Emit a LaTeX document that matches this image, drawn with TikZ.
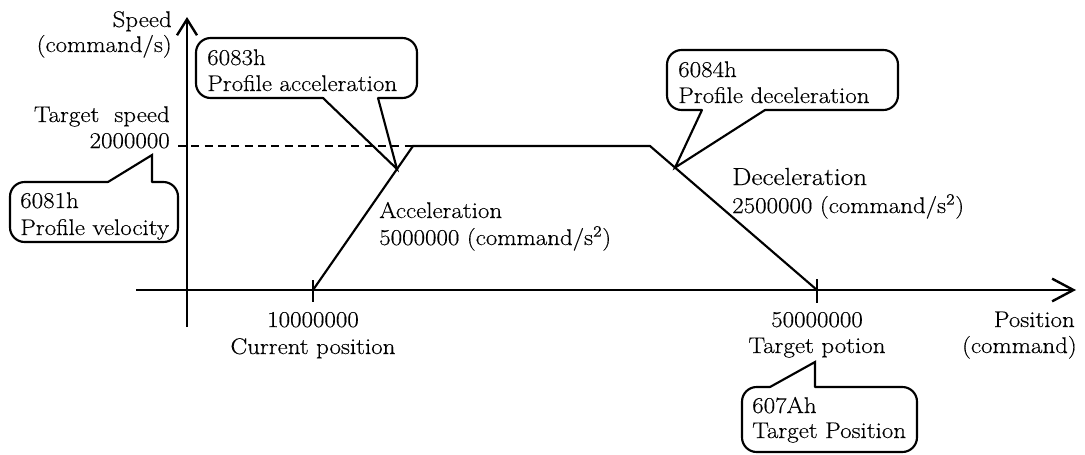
\documentclass[tikz,border=0pt]{standalone}
\usepackage{fontspec}
\setmainfont{Latin Modern Roman}[FakeStretch=1.1,FakeBold=0.4]
\usetikzlibrary{arrows.meta,calc}
\begin{document}
\begin{tikzpicture}[x=0.75pt,y=-0.75pt,
  txt/.style={inner sep=0pt,font=\fontsize{17}{20}\selectfont},
  big/.style={inner sep=0pt,font=\fontsize{18.5}{22}\selectfont},
  axis/.style={line width=1.8pt},
  curve/.style={line width=1.6pt,line join=miter},
  box/.style={line width=1.6pt,rounded corners=11pt},
  tail/.style={line width=1.6pt,line cap=round,line join=miter},
  erase/.style={fill=white},
]
\useasboundingbox (0,0) rectangle (1085,454);

% ---------- callout boxes ----------
% 6083h
\draw[box] (196,38) rectangle (417,98);
\coordinate (A1) at (323,98); \coordinate (A2) at (378,98);
% 6084h
\draw[box] (667,50) rectangle (898,110);
\coordinate (D1) at (702,110); \coordinate (D2) at (765,110);
% 6081h
\draw[box] (10,182) rectangle (178,242);
\coordinate (V1) at (108,182); \coordinate (V2) at (152,182);
\coordinate (Vtip) at (152,155);
% 607Ah
\draw[box] (742,387) rectangle (917,452);
\coordinate (T1) at (770,387); \coordinate (T2) at (815,387);
\coordinate (Ttip) at (815,362);

\fill[erase] ($(A1)+(0,-1.8)$) rectangle ($(A2)+(0,1.8)$);
\fill[erase] ($(D1)+(0,-1.8)$) rectangle ($(D2)+(0,1.8)$);
\fill[erase] ($(V1)+(0,-1.8)$) rectangle ($(V2)+(0,1.8)$);
\fill[erase] ($(T1)+(0,-1.8)$) rectangle ($(T2)+(0,1.8)$);

% ---------- profile ----------
\coordinate (start) at (313,290);
\coordinate (top1) at (413,146);
\coordinate (top2) at (650,146);
\coordinate (end) at (817,290);
\coordinate (Atip) at ($(start)!0.84!(top1)$);
\coordinate (Dtip) at ($(top2)!0.15!(end)$);
\coordinate (dashL) at (178,146);

\draw[tail] (A1) -- (Atip) -- (A2);
\draw[tail] (D1) -- (Dtip) -- (D2);
\draw[tail] (V1) -- (Vtip) -- (V2);
\draw[tail] (T1) -- (Ttip) -- (T2);

% ---------- axes ----------
\coordinate (xs) at (136,290); \coordinate (xe) at (1076,290);
\coordinate (ys) at (187,327); \coordinate (ye) at (187,17);
\draw[axis,-{Straight Barb[length=16pt,width=17pt,line width=1.8pt]}] (xs) -- (xe);
\draw[axis,-{Straight Barb[length=12pt,width=15pt,line width=1.8pt]}] (ys) -- (ye);
\draw[axis] (313,280) -- (313,302);
\draw[axis] (817,279) -- (817,303);

\draw[curve] (start) -- (top1) -- (top2) -- (end);
\draw[line width=1.4pt,dash pattern=on 6pt off 4pt] (dashL) -- (top1);

% ---------- texts ----------
\node[txt,anchor=base east] (sp) at (172,27) {Speed};
\node[txt,anchor=base east] (spu) at (172,52) {(command/s)};
\node[txt,anchor=base east] (ts) at (170,122) {Target~~speed};
\node[txt,anchor=base east] (tsv) at (170,148) {2000000};

\node[txt,anchor=base] (p1) at (313,327) {10000000};
\node[txt,anchor=base] (p1l) at (313,354) {Current position};
\node[txt,anchor=base] (p2) at (817,327) {50000000};
\node[txt,anchor=base] (p2l) at (817,353) {Target potion};
\node[txt,anchor=base east] (px) at (1075,327) {Position};
\node[txt,anchor=base east] (pxu) at (1077,353) {(command)};

\node[txt,anchor=base west] (acc) at (379,218) {Acceleration};
\node[txt,anchor=base west] (accv) at (379,245) {5000000 (command/s\textsuperscript{2})};
\node[big,anchor=base west] (dec) at (732,185) {Deceleration};
\node[txt,anchor=base west] (decv) at (732,213) {2500000 (command/s\textsuperscript{2})};

\node[txt,anchor=base west] (a1) at (207,65) {6083h};
\node[txt,anchor=base west] (a2) at (207,91) {Profile acceleration};
\node[txt,anchor=base west] (d1) at (678,77) {6084h};
\node[txt,anchor=base west] (d2) at (678,103) {Profile deceleration};
\node[txt,anchor=base west] (v1) at (20,208) {6081h};
\node[txt,anchor=base west] (v2) at (20,235) {Profile velocity};
\node[txt,anchor=base west] (t1) at (752,413) {607Ah};
\node[txt,anchor=base west] (t2) at (752,438) {Target Position};
\end{tikzpicture}
\end{document}
